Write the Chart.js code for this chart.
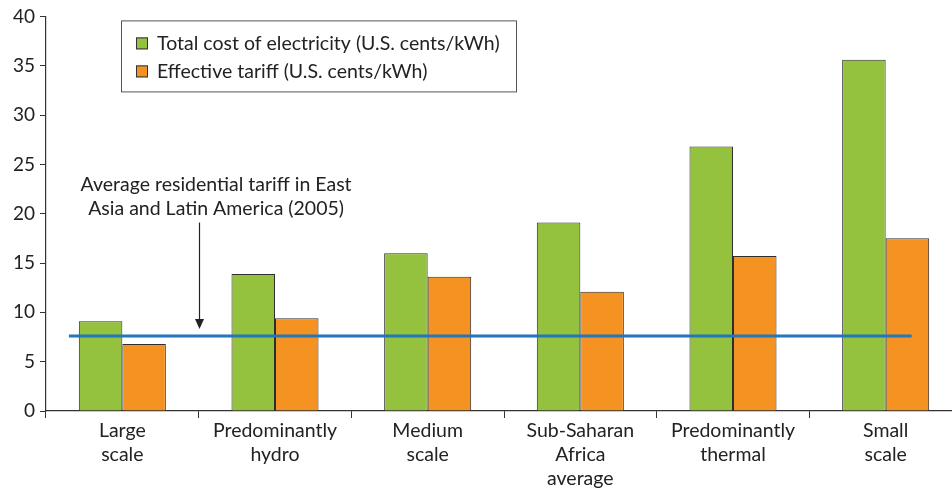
<!DOCTYPE html>
<html><head><meta charset="utf-8">
<script src="https://cdn.jsdelivr.net/npm/chart.js@4"></script>
<style>html,body{margin:0;padding:0;overflow:hidden;background:#fff}#wrap{width:962px;height:489px}</style>
</head><body><div id="wrap"><canvas id="c" width="962" height="489"></canvas></div>
<script>
const categories = [["Large","scale"],["Predominantly","hydro"],["Medium","scale"],["Sub-Saharan","Africa","average"],["Predominantly","thermal"],["Small","scale"]];
const totalCost = [9.1, 13.9, 16.0, 19.1, 26.8, 35.6];
const effectiveTariff = [6.8, 9.4, 13.6, 12.1, 15.7, 17.5];
const seriesLabels = ["Total cost of electricity (U.S. cents/kWh)", "Effective tariff (U.S. cents/kWh)"];
const avgTariff = 7.6;
const avgTariffSpan = [-0.35, 5.17];
const annotationLines = ["Average residential tariff in East", "Asia and Latin America (2005)"];
const yMin = 0, yMax = 40, yStep = 5;

const FONT = "Lato, 'Open Sans', sans-serif";
const GREEN = "#94C13E", ORANGE = "#F59322", BLUE = "#2276BC", AXIS = "#333";

const overlay = {
  id: 'overlay',
  afterDraw(chart) {
    const ctx = chart.ctx, a = chart.chartArea;
    const x = chart.scales.x, y = chart.scales.y;
    ctx.save();
    const lx = a.left + 75, ly = a.top + 4, lw = 395, lh = 71;
    ctx.strokeStyle = "#555"; ctx.lineWidth = 1;
    ctx.strokeRect(lx + 0.5, ly + 0.5, lw, lh);
    const cols = [GREEN, ORANGE];
    ctx.font = "19.5px " + FONT; ctx.textBaseline = "middle"; ctx.fillStyle = "#222";
    for (let i = 0; i < 2; i++) {
      const cy = ly + 23 + i * 28;
      ctx.fillStyle = cols[i];
      ctx.fillRect(lx + 15, cy - 6, 12, 12);
      ctx.strokeStyle = "#333";
      ctx.strokeRect(lx + 15.5, cy - 5.5, 11, 11);
      ctx.fillStyle = "#222";
      ctx.fillText(seriesLabels[i], lx + 36, cy);
    }
    ctx.font = "19.5px " + FONT; ctx.textAlign = "center";
    const tx = x.getPixelForValue(0.614);
    ctx.fillText(annotationLines[0], tx, y.getPixelForValue(22.9));
    ctx.fillText(annotationLines[1], tx, y.getPixelForValue(20.5));
    const ax = Math.round(x.getPixelForValue(0.5)) + 0.5;
    const y0 = y.getPixelForValue(19.1), y1 = y.getPixelForValue(8.3);
    ctx.strokeStyle = "#222"; ctx.lineWidth = 1.2;
    ctx.beginPath(); ctx.moveTo(ax, y0); ctx.lineTo(ax, y1 - 8); ctx.stroke();
    ctx.fillStyle = "#222";
    ctx.beginPath(); ctx.moveTo(ax - 4.5, y1 - 10); ctx.lineTo(ax + 4.5, y1 - 10); ctx.lineTo(ax, y1); ctx.closePath(); ctx.fill();
    ctx.restore();
  }
};

new Chart(document.getElementById('c'), {
  type: 'bar',
  data: {
    datasets: [
      { label: seriesLabels[0], data: totalCost.map((v, i) => ({x: i, y: v})), backgroundColor: GREEN, borderColor: "#2e2e2e", borderWidth: 1, order: 1 },
      { label: seriesLabels[1], data: effectiveTariff.map((v, i) => ({x: i, y: v})), backgroundColor: ORANGE, borderColor: "#2e2e2e", borderWidth: 1, order: 1 },
      { type: 'line', label: 'avg', data: [{x: avgTariffSpan[0], y: avgTariff}, {x: avgTariffSpan[1], y: avgTariff}], borderColor: BLUE, borderWidth: 3, pointRadius: 0, fill: false, order: 0 }
    ]
  },
  options: {
    responsive: false, animation: false,
    datasets: { bar: { categoryPercentage: 0.57, barPercentage: 1.0 } },
    layout: { padding: { top: 12, left: 0, right: 0, bottom: 0 } },
    plugins: { legend: { display: false }, tooltip: { enabled: false } },
    scales: {
      x: {
        type: 'linear', min: -0.5, max: 5.5, offset: false,
        afterBuildTicks(s) { s.ticks = categories.map((_, i) => ({ value: i })); },
        grid: { offset: true, drawOnChartArea: false, tickLength: 7, color: AXIS, lineWidth: 1 },
        border: { color: AXIS, width: 1.2 },
        ticks: { color: "#222", font: { family: FONT, size: 19.5, lineHeight: 1.23 }, padding: 1, maxRotation: 0, autoSkip: false,
                 callback: (v) => categories[v] },
        afterFit(s) { s.height = 78; }
      },
      y: {
        min: yMin, max: yMax,
        grid: { drawOnChartArea: false, tickLength: 6, color: AXIS },
        border: { color: AXIS, width: 1.2 },
        ticks: { stepSize: yStep, color: "#222", font: { family: FONT, size: 19 }, padding: 5 },
        afterFit(s) { s.width = 46; }
      }
    }
  },
  plugins: [overlay]
});
</script>
</body></html>
